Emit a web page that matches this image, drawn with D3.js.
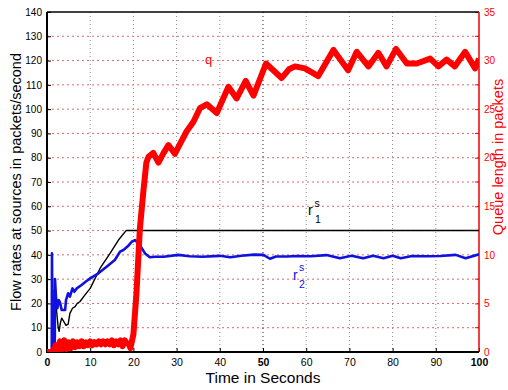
<!DOCTYPE html>
<html><head><meta charset="utf-8">
<script src="https://cdn.jsdelivr.net/npm/d3@7/dist/d3.min.js"></script>
<style>body{margin:0;background:#fff}svg{display:block;font-family:"Liberation Sans",Arial,sans-serif}</style>
</head><body><svg id="c" width="508" height="390"></svg>
<script>
// ---- data ----
const xTicks = [0,10,20,30,40,50,60,70,80,90,100];
const leftTicks = [0,10,20,30,40,50,60,70,80,90,100,110,120,130,140];
const rightTicks = [0,5,10,15,20,25,30,35];
const rightMinorTicks = [2.5,7.5,12.5,17.5,22.5,27.5,32.5];

// queue length q (packets, right axis)
const qTime = [0,0.5,1,1.5,2,2.5,3,3.5,4,4.5,5,5.5,6,6.5,7,7.5,8,8.5,9,9.5,10,10.5,11,11.5,12,12.5,13,13.5,14,14.5,15,15.5,16,16.5,17,17.5,18,18.5,19,19.3,20,20.7,21.5,22.3,23,23.5,24.6,25.8,27,28.1,29.6,30.4,32.3,33.9,35.4,37,39.3,42,43.9,46,47.8,50.7,54.3,56,57.4,59.7,62.8,66.3,69.7,71.7,74.4,76.7,78.6,80.8,83.3,85.6,88.7,90.6,92.5,94.4,96.8,99.1,100];
const qValues = [0,0,0,0.1,0.7,0.2,1.1,0.3,1.2,0.3,1.0,0.4,1.1,0.5,1.0,0.6,1.1,0.6,1.0,0.7,1.1,0.7,1.0,0.8,1.1,0.8,1.1,0.8,1.1,0.8,1.2,0.7,1.1,0.8,1.2,0.6,1.2,0.9,0.8,0.4,1.8,6,12.7,16.5,19.5,20.1,20.5,19.5,20.5,21.3,20.4,21.1,22.7,23.7,25.1,25.5,24.6,27.3,26.1,27.9,26.4,29.7,28.2,29.1,29.4,29.2,28.4,31.1,29,30.9,29.4,30.8,29.4,31.2,29.7,29.7,30.2,29.4,30.1,29.4,30.9,29.2,30.2];

// r1^s (packets/second, left axis)
const r1Time = [0,1.6,1.65,1.9,2.2,2.6,2.8,3.1,3.4,3.9,4.4,4.9,5.3,5.9,6.5,7,7.6,8.8,10,12.3,14.6,16.5,18.3,100];
const r1Values = [0,0,25.5,25,17.3,10,8.5,12,13.9,12.5,11,11.5,15.9,18,18.7,20,20.7,23.5,26.2,34.5,40.6,46,50,50];

// r2^s (packets/second, left axis)
const r2Time = [0,1.1,1.15,1.3,1.8,1.85,2.1,2.4,2.7,3.0,3.4,4.2,4.4,4.9,5.3,5.9,6.3,6.9,8,9,10,11.9,13.8,15.7,16.9,17.7,18.7,19.6,20.4,21.5,22.7,23.8,25,27,30.4,33,36,40,42.4,45,47.9,50.1,51.6,53,55.5,58,61,64.7,67.8,70.5,73.2,75.5,77.9,80,81.9,84.5,88,91,94.6,96.9,100];
const r2Values = [0,0,40.6,0.5,0,30,22,18,21.4,20.5,17.3,17.3,21.4,24.2,22.8,26.2,24.8,26.2,27.6,29,30.3,32.4,35.1,37.9,41.3,42,43.5,45.4,46.1,44,40.6,39,39.2,39.2,40,39.4,39.2,39.6,39,39.6,40.1,40,38.4,39.3,39.3,39.5,39.4,39.9,38.6,39.6,38.6,39.6,38.6,39.6,38.6,39.5,39.4,39.5,40,38.6,40.2];

// ---- layout ----
const L = 47, R = 479, T = 12, B = 352;
const svg = d3.select("#c");
const x = d3.scaleLinear().domain([0,100]).range([L,R]);
const yL = d3.scaleLinear().domain([0,140]).range([B,T]);
const yR = d3.scaleLinear().domain([0,35]).range([B,T]);

svg.append("defs").append("clipPath").attr("id","pc")
  .append("rect").attr("x",L).attr("y",T).attr("width",R-L).attr("height",B-T);

// grid
const g = svg.append("g");
g.selectAll(".hg").data(leftTicks.filter(d=>d>0&&d<140)).join("line")
  .attr("x1",L).attr("x2",R).attr("y1",d=>yL(d)).attr("y2",d=>yL(d))
  .attr("stroke","#d96a6a").attr("stroke-width",1).attr("stroke-dasharray","2,3");
g.selectAll(".vg").data(xTicks.filter(d=>d>0&&d<100)).join("line")
  .attr("x1",d=>x(d)).attr("x2",d=>x(d)).attr("y1",T).attr("y2",B)
  .attr("stroke",d=>d===50?"#222":"#888").attr("stroke-width",1).attr("stroke-dasharray","1,3");

// axes
const axB = d3.axisBottom(x).tickValues(xTicks).tickSize(-4).tickPadding(7);
const gB = svg.append("g").attr("transform",`translate(0,${B})`).call(axB);
gB.select(".domain").remove();
gB.selectAll("line").attr("stroke","#000");
gB.selectAll("text").attr("font-size",10.5).attr("fill","#000")
  .attr("font-weight",d=>(d===0||d===50||d===100)?"bold":"normal");

const axL = d3.axisLeft(yL).tickValues(leftTicks).tickSize(-4).tickPadding(5);
const gL = svg.append("g").attr("transform",`translate(${L},0)`).call(axL);
gL.select(".domain").remove();
gL.selectAll("line").attr("stroke","#000");
gL.selectAll("text").attr("font-size",10).attr("fill","#000");

const axR = d3.axisRight(yR).tickValues(rightTicks).tickSize(-4).tickPadding(5);
const gR = svg.append("g").attr("transform",`translate(${R},0)`).call(axR);
gR.select(".domain").remove();
gR.selectAll("line").attr("stroke","#e00");
gR.selectAll("text").attr("font-size",10).attr("fill","#f00");
svg.append("g").selectAll("line").data(rightMinorTicks).join("line")
  .attr("x1",R-4).attr("x2",R).attr("y1",d=>yR(d)).attr("y2",d=>yR(d)).attr("stroke","#e00");

// frame
svg.append("line").attr("x1",L).attr("x2",R).attr("y1",T).attr("y2",T).attr("stroke","#000").attr("stroke-width",1.5);
svg.append("line").attr("x1",R).attr("x2",R).attr("y1",T).attr("y2",B).attr("stroke","#e00").attr("stroke-width",1.5);
svg.append("line").attr("x1",L).attr("x2",L).attr("y1",T).attr("y2",B+1).attr("stroke","#000").attr("stroke-width",2);
svg.append("line").attr("x1",L).attr("x2",R).attr("y1",B).attr("y2",B).attr("stroke","#000").attr("stroke-width",2);

// lines
const pl = svg.append("g").attr("clip-path","url(#pc)");
const lineL = (ts,vs)=>d3.line().x((d,i)=>x(ts[i])).y((d,i)=>yL(vs[i]))(vs);
const lineR = (ts,vs)=>d3.line().x((d,i)=>x(ts[i])).y((d,i)=>yR(vs[i]))(vs);

pl.append("path").attr("d",lineL(r1Time,r1Values)).attr("fill","none")
  .attr("stroke","#000").attr("stroke-width",1.4).attr("stroke-linejoin","round");
pl.append("path").attr("d",lineL(r2Time,r2Values)).attr("fill","none")
  .attr("stroke","#1010e0").attr("stroke-width",2.6).attr("stroke-linejoin","round");
pl.append("path").attr("d",lineR(qTime,qValues)).attr("fill","none")
  .attr("stroke","#f00").attr("stroke-width",6).attr("stroke-linejoin","round");

// annotations
svg.append("text").attr("x",205).attr("y",64).attr("font-size",13).attr("fill","#f00").text("q");
const a1 = svg.append("g").attr("fill","#000");
a1.append("text").attr("x",308).attr("y",215).attr("font-size",14).text("r");
a1.append("text").attr("x",314.5).attr("y",207).attr("font-size",10.5).text("s");
a1.append("text").attr("x",315).attr("y",223).attr("font-size",10.5).text("1");
const a2 = svg.append("g").attr("fill","#1010e0");
a2.append("text").attr("x",293).attr("y",280).attr("font-size",14).text("r");
a2.append("text").attr("x",299).attr("y",271).attr("font-size",10.5).text("s");
a2.append("text").attr("x",299).attr("y",288).attr("font-size",10.5).text("2");

// titles
svg.append("text").attr("transform",`translate(21,${(T+B)/2}) rotate(-90)`)
  .attr("text-anchor","middle").attr("font-size",14.5).attr("fill","#000")
  .text("Flow rates at sources in packets/second");
svg.append("text").attr("transform",`translate(503,157) rotate(-90)`)
  .attr("text-anchor","middle").attr("font-size",14.5).attr("fill","#f00")
  .text("Queue length in packets");
svg.append("text").attr("x",263).attr("y",383).attr("text-anchor","middle")
  .attr("font-size",15.5).attr("fill","#000").text("Time in Seconds");
</script></body></html>
